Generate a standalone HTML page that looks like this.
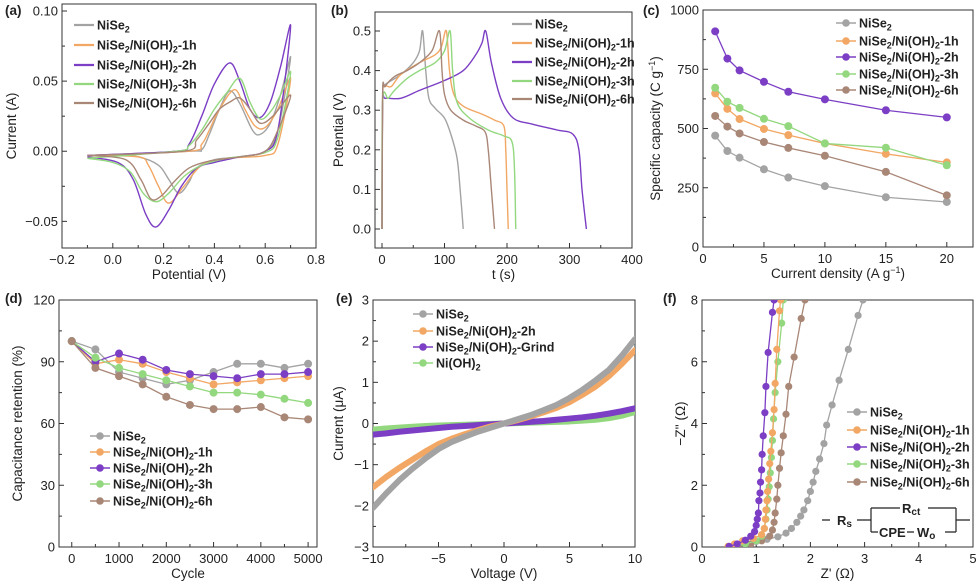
<!DOCTYPE html>
<html><head><meta charset="utf-8"><style>
html,body{margin:0;padding:0;background:#fff}
svg{display:block;font-family:"Liberation Sans",Arial,sans-serif}
</style></head><body>
<svg id="fig" width="980" height="587" viewBox="0 0 980 587" xmlns="http://www.w3.org/2000/svg"></svg>
<script>
// ---------- colors ----------
const C_GRAY="#a3a3a3",C_OR="#f2a764",C_PU="#7b3ec4",C_GR="#93d87f",C_BR="#a98777";
// ---------- (a) CV data ----------
const cvNiSe2=[[-0.1,-0.003],[0.3,0],[0.35,0.001],[0.38,0.012],[0.42,0.03],[0.46,0.043],[0.5,0.034],[0.55,0.015],[0.58,0.012],[0.62,0.02],[0.66,0.04],[0.7,0.067],[0.65,0.015],[0.6,0.0],[0.5,-0.004],[0.4,-0.006],[0.33,-0.012],[0.3,-0.022],[0.26,-0.03],[0.22,-0.02],[0.18,-0.01],[0.1,-0.004],[0,-0.003],[-0.1,-0.003]];
const cv1h=[[-0.1,-0.003],[0.3,0],[0.35,0.005],[0.38,0.015],[0.42,0.03],[0.48,0.044],[0.52,0.03],[0.56,0.018],[0.6,0.017],[0.65,0.03],[0.7,0.052],[0.65,0.005],[0.6,-0.003],[0.45,-0.005],[0.35,-0.01],[0.28,-0.025],[0.22,-0.037],[0.18,-0.025],[0.14,-0.01],[0.1,-0.004],[-0.1,-0.003]];
const cv2h=[[-0.1,-0.003],[0.25,0],[0.3,0.005],[0.35,0.025],[0.4,0.048],[0.46,0.063],[0.5,0.05],[0.54,0.03],[0.58,0.024],[0.62,0.035],[0.66,0.06],[0.7,0.089],[0.65,0.015],[0.6,0.0],[0.5,-0.004],[0.4,-0.008],[0.33,-0.012],[0.27,-0.025],[0.22,-0.042],[0.17,-0.054],[0.13,-0.045],[0.08,-0.02],[0.02,-0.008],[-0.1,-0.004]];
const cv3h=[[-0.1,-0.005],[0.25,0],[0.3,0.004],[0.35,0.015],[0.4,0.03],[0.45,0.042],[0.5,0.052],[0.54,0.035],[0.58,0.023],[0.62,0.028],[0.66,0.04],[0.7,0.056],[0.65,0.01],[0.6,-0.001],[0.45,-0.005],[0.35,-0.01],[0.28,-0.018],[0.22,-0.03],[0.17,-0.036],[0.12,-0.03],[0.07,-0.015],[0,-0.008],[-0.1,-0.005]];
const cv6h=[[-0.1,-0.003],[0.28,0],[0.33,0.008],[0.38,0.02],[0.42,0.03],[0.46,0.035],[0.5,0.038],[0.54,0.03],[0.58,0.02],[0.63,0.025],[0.7,0.04],[0.65,0.015],[0.6,0.0],[0.5,-0.004],[0.38,-0.007],[0.3,-0.012],[0.24,-0.022],[0.19,-0.032],[0.15,-0.034],[0.11,-0.02],[0.05,-0.006],[-0.1,-0.003]];
// ---------- (b) GCD data ----------
const gcdNiSe2=[[0,0],[1,0.33],[3,0.36],[10,0.37],[30,0.39],[50,0.42],[60,0.45],[65,0.5],[70,0.4],[75,0.33],[85,0.305],[100,0.28],[110,0.24],[120,0.18],[125,0.1],[130,0]];
const gcd1h=[[0,0],[1,0.33],[5,0.36],[15,0.36],[30,0.39],[60,0.42],[85,0.44],[95,0.46],[103,0.5],[108,0.4],[115,0.34],[130,0.31],[160,0.29],[180,0.275],[195,0.26],[198,0.2],[200,0.1],[202,0]];
const gcd2h=[[0,0],[1,0.32],[5,0.33],[30,0.33],[60,0.35],[100,0.375],[130,0.4],[150,0.44],[160,0.47],[166,0.5],[175,0.42],[190,0.33],[210,0.28],[240,0.265],[280,0.25],[305,0.24],[315,0.2],[320,0.1],[327,0]];
const gcd3h=[[0,0],[1,0.32],[10,0.33],[20,0.35],[40,0.38],[60,0.4],[85,0.42],[100,0.45],[109,0.5],[113,0.4],[120,0.32],[140,0.28],[170,0.25],[195,0.235],[208,0.22],[212,0.15],[214,0]];
const gcd6h=[[0,0],[1,0.34],[5,0.36],[20,0.385],[40,0.4],[60,0.42],[80,0.45],[92,0.5],[96,0.4],[100,0.34],[110,0.3],[130,0.275],[150,0.26],[165,0.245],[170,0.2],[175,0.1],[180,0]];
// ---------- (c) rate data ----------
const rateX=[1,2,3,5,7,10,15,20];
const rateNiSe2=[470,405,377,328,293,257,210,190];
const rate1h=[648,583,540,498,472,437,393,357];
const rate2h=[910,795,745,697,655,623,577,547];
const rate3h=[672,613,587,541,510,437,419,345];
const rate6h=[553,508,479,443,418,385,317,218];
// ---------- (d) cycling data ----------
const cycX=[0,500,1000,1500,2000,2500,3000,3500,4000,4500,5000];
const cycNiSe2=[100,96,85,82,79,81,85,89,89,87,89];
const cyc1h=[100,89,91,89,85,82,79,80,81,82,83];
const cyc2h=[100,90,94,91,86,84,83,82,84,84,85];
const cyc3h=[100,92,87,84,81,78,75,75,74,72,70];
const cyc6h=[100,87,83,79,73,69,67,67,68,63,62];
// ---------- (e) I-V data ----------
const ivX=[-10,-9,-8,-7,-6,-5,-4,-3,-2,-1,0,1,2,3,4,5,6,7,8,9,10];
const ivNiSe2=[-2.05,-1.7,-1.38,-1.1,-0.85,-0.62,-0.45,-0.32,-0.2,-0.1,0,0.1,0.2,0.32,0.45,0.62,0.82,1.05,1.3,1.65,2.05];
const iv2h=[-1.55,-1.3,-1.08,-0.88,-0.68,-0.5,-0.37,-0.26,-0.16,-0.07,0,0.08,0.17,0.27,0.38,0.52,0.7,0.9,1.15,1.45,1.78];
const ivGrind=[-0.27,-0.24,-0.2,-0.17,-0.14,-0.11,-0.08,-0.06,-0.04,-0.02,0,0.02,0.04,0.06,0.09,0.12,0.15,0.19,0.24,0.3,0.37];
const ivNiOH=[-0.15,-0.12,-0.1,-0.08,-0.06,-0.05,-0.04,-0.03,-0.02,-0.01,0,0.01,0.02,0.03,0.04,0.05,0.07,0.09,0.13,0.19,0.28];
// ---------- (f) EIS data ----------
const eisNiSe2=[[0.62,0.02],[0.8,0.1],[1.0,0.18],[1.2,0.25],[1.4,0.33],[1.55,0.45],[1.65,0.6],[1.75,0.8],[1.82,1.0],[1.88,1.2],[1.95,1.5],[2.0,1.8],[2.05,2.1],[2.1,2.45],[2.17,2.85],[2.25,3.35],[2.3,3.95],[2.4,4.6],[2.53,5.4],[2.7,6.4],[2.88,7.5],[2.97,8.0]];
const eis1h=[[0.48,0.02],[0.6,0.1],[0.75,0.2],[0.95,0.28],[1.1,0.4],[1.15,0.6],[1.17,0.9],[1.18,1.2],[1.2,1.5],[1.21,1.8],[1.23,2.2],[1.25,2.7],[1.27,3.1],[1.3,3.7],[1.33,4.45],[1.35,5.3],[1.38,6.4],[1.43,7.65],[1.45,8]];
const eis2h=[[0.5,0.02],[0.65,0.1],[0.8,0.22],[0.9,0.35],[0.97,0.5],[1.0,0.7],[1.02,0.9],[1.04,1.1],[1.05,1.5],[1.07,1.75],[1.08,2.1],[1.1,2.5],[1.11,3.0],[1.13,3.6],[1.16,4.35],[1.18,5.2],[1.22,6.3],[1.3,7.6],[1.33,8]];
const eis3h=[[0.62,0.02],[0.8,0.1],[1.0,0.2],[1.1,0.35],[1.15,0.6],[1.18,0.9],[1.2,1.2],[1.22,1.55],[1.24,1.95],[1.26,2.4],[1.28,2.9],[1.3,3.45],[1.32,4.15],[1.35,5.0],[1.4,6.0],[1.47,7.25],[1.5,8]];
const eis6h=[[0.65,0.02],[0.9,0.1],[1.1,0.2],[1.25,0.35],[1.3,0.55],[1.33,0.8],[1.35,1.1],[1.38,1.55],[1.4,2.0],[1.43,2.55],[1.46,3.05],[1.5,3.6],[1.55,4.3],[1.6,5.2],[1.7,6.15],[1.83,7.4],[1.9,8]];
// ---------- tick labels ----------
const aXt=[-0.2,0,0.2,0.4,0.6,0.8], aXl=["−0.2","0.0","0.2","0.4","0.6","0.8"];
const aYt=[-0.05,0,0.05,0.1], aYl=["−0.05","0.00","0.05","0.10"];
const bXt=[0,100,200,300,400], bXl=["0","100","200","300","400"];
const bYt=[0,0.1,0.2,0.3,0.4,0.5], bYl=["0.0","0.1","0.2","0.3","0.4","0.5"];
const cXt=[0,5,10,15,20], cXl=["0","5","10","15","20"];
const cYt=[0,250,500,750,1000], cYl=["0","250","500","750","1000"];
const dXt=[0,1000,2000,3000,4000,5000], dXl=["0","1000","2000","3000","4000","5000"];
const dYt=[0,30,60,90,120], dYl=["0","30","60","90","120"];
const eXt=[-10,-5,0,5,10], eXl=["−10","−5","0","5","10"];
const eYt=[-3,-2,-1,0,1,2,3], eYl=["−3","−2","−1","0","1","2","3"];
const fXt=[0,1,2,3,4,5], fXl=["0","1","2","3","4","5"];
const fYt=[0,2,4,6,8], fYl=["0","2","4","6","8"];

const NS="http://www.w3.org/2000/svg";
const fig=document.getElementById("fig");
function mk(tag,attrs,parent){const e=document.createElementNS(NS,tag);for(const k in attrs)e.setAttribute(k,attrs[k]);(parent||fig).appendChild(e);return e;}
function smooth(pts){
  let d="M"+pts[0][0].toFixed(2)+","+pts[0][1].toFixed(2);
  for(let i=0;i<pts.length-1;i++){const p0=pts[Math.max(0,i-1)],p1=pts[i],p2=pts[i+1],p3=pts[Math.min(pts.length-1,i+2)];
    const c1=[p1[0]+(p2[0]-p0[0])/6,p1[1]+(p2[1]-p0[1])/6],c2=[p2[0]-(p3[0]-p1[0])/6,p2[1]-(p3[1]-p1[1])/6];
    d+="C"+c1[0].toFixed(2)+","+c1[1].toFixed(2)+" "+c2[0].toFixed(2)+","+c2[1].toFixed(2)+" "+p2[0].toFixed(2)+","+p2[1].toFixed(2);}
  return d;}
function axes(id,L,R,T,B,x0,x1,y0,y1){
  const sx=v=>L+(v-x0)/(x1-x0)*(R-L), sy=v=>B-(v-y0)/(y1-y0)*(B-T);
  const g=mk("g",{});
  
  
  const cp=mk("clipPath",{id:"clip-"+id},g);mk("rect",{x:L,y:T,width:R-L,height:B-T},cp);
  return {g,sx,sy,L,R,T,B};}
function frame(A,xt,xl,xminor,yt,yl,yminor,xTitle,yTitle,yTitleX,panel,px,py){
  const g=A.g;
  const box=mk("rect",{x:A.L,y:A.T,width:A.R-A.L,height:A.B-A.T,fill:"none",stroke:"#333","stroke-width":1},g);
  
  
  const xa=mk("g",{},g);
  xt.forEach((v,i)=>{const x=A.sx(v);mk("line",{x1:x,x2:x,y1:A.B,y2:A.B-5,stroke:"#333"},xa);
    const t=mk("text",{x:x,y:A.B+16,"text-anchor":"middle","font-size":13,fill:"#222"},xa);t.textContent=xl[i];
    });
  xminor.forEach(v=>{const x=A.sx(v);mk("line",{x1:x,x2:x,y1:A.B,y2:A.B-3,stroke:"#333"},xa);});
  const ya=mk("g",{},g);
  yt.forEach((v,i)=>{const y=A.sy(v);mk("line",{x1:A.L,x2:A.L+5,y1:y,y2:y,stroke:"#333"},ya);
    const t=mk("text",{x:A.L-4,y:y+4.5,"text-anchor":"end","font-size":13,fill:"#222"},ya);t.textContent=yl[i];
    });
  yminor.forEach(v=>{const y=A.sy(v);mk("line",{x1:A.L,x2:A.L+3,y1:y,y2:y,stroke:"#333"},ya);});
  const xtT=mk("text",{x:(A.L+A.R)/2,y:A.B+31,"text-anchor":"middle","font-size":13.5,fill:"#222"},g);xtT.innerHTML=xTitle;
  
  const cy=(A.T+A.B)/2;
  const ytT=mk("text",{x:yTitleX,y:cy,"text-anchor":"middle","font-size":13.5,fill:"#222",transform:`rotate(-90 ${yTitleX} ${cy})`},g);ytT.innerHTML=yTitle;
  
  const pl=mk("text",{x:px,y:py,"font-size":13.5,"font-weight":"bold",fill:"#222"},g);pl.textContent=panel;
  }
function range(a,b,s){const r=[];for(let v=a;v<=b+1e-9;v+=s)r.push(+v.toFixed(6));return r;}
function lab(name){
  return name.replace(/(Se|\))2/g,'$1<tspan font-size="9" dy="3">2</tspan><tspan dy="-3">\u200b</tspan>');}
function legend(g,x,ys,names,colors,marker,lw){
  const lg=mk("g",{},g);
  names.forEach((n,i)=>{const y=ys[i];
    const e=mk("g",{},lg);
    mk("line",{x1:x,x2:x+20,y1:y,y2:y,stroke:colors[i],"stroke-width":lw||2},e);
    if(marker)mk("circle",{cx:x+10,cy:y,r:3.8,fill:colors[i]},e);
    const t=mk("text",{x:x+23,y:y+4.5,"font-size":12.5,"font-weight":"bold",fill:"#222"},e);t.innerHTML=lab(n);});}
const NAMES5=["NiSe2","NiSe2/Ni(OH)2-1h","NiSe2/Ni(OH)2-2h","NiSe2/Ni(OH)2-3h","NiSe2/Ni(OH)2-6h"];
const COL5=[C_GRAY,C_OR,C_PU,C_GR,C_BR];
function curve(A,pts,col,name,w){const p=mk("path",{d:smooth(pts.map(q=>[A.sx(q[0]),A.sy(q[1])])),fill:"none",stroke:col,"stroke-width":w||1.4,"clip-path":"url(#clip-"+A.id+")"},A.g);
  }
function dotline(A,xs,ys,col,name,r,lw){const s=mk("g",{"clip-path":"url(#clip-"+A.id+")"},A.g);
  
  mk("polyline",{points:xs.map((x,i)=>A.sx(x)+","+A.sy(ys[i])).join(" "),fill:"none",stroke:col,"stroke-width":lw||1.4},s);
  xs.forEach((x,i)=>{const c=mk("circle",{cx:A.sx(x),cy:A.sy(ys[i]),r:r||4,fill:col},s);
    });}

// (a)
let A=axes("a",62,316,4,248,-0.2,0.8,-0.069,0.105);A.id="a";
frame(A,aXt,aXl,range(-0.1,0.7,0.2),aYt,aYl,[-0.025,0.025,0.075],"Potential (V)","Current (A)",16,"(a)",5,15);
[cvNiSe2,cv1h,cv2h,cv3h,cv6h].forEach((d,i)=>curve(A,d,COL5[i],"cv-curve-"+i));
legend(A.g,74,[25,45,65,84,103],NAMES5,COL5,false,2.2);
// (b)
A=axes("b",375,632,12,248,-11.2,400,-0.048,0.548);A.id="b";
frame(A,bXt,bXl,[50,150,250,350],bYt,bYl,range(0.05,0.45,0.1),"t (s)","Potential (V)",343,"(b)",331,15);
[gcdNiSe2,gcd1h,gcd2h,gcd3h,gcd6h].forEach((d,i)=>curve(A,d,COL5[i],"gcd-curve-"+i));
legend(A.g,512,[24,43,62,81,99],NAMES5,COL5,false,2.2);
// (c)
A=axes("c",703,973,10,247,0,22.15,0,1000);A.id="c";
frame(A,cXt,cXl,[2.5,7.5,12.5,17.5],cYt,cYl,[125,375,625,875],"Current density (A g<tspan font-size='9' dy='-5'>−1</tspan><tspan dy='5'>)</tspan>","Specific capacity (C g<tspan font-size='9' dy='-5'>−1</tspan><tspan dy='5'>)</tspan>",660,"(c)",643,15);
[rateNiSe2,rate1h,rate2h,rate3h,rate6h].forEach((d,i)=>dotline(A,rateX,d,COL5[i],"rate-series-"+i,4,1.3));
legend(A.g,836,[23,41,57,74,90],NAMES5,COL5,true,1.5);
// (d)
A=axes("d",59,317,300,547,-270,5000+(317-308)*5000/239,0,120);A.id="d";
frame(A,dXt,dXl,range(500,4500,1000),dYt,dYl,[15,45,75,105],"Cycle","Capacitance retention (%)",22,"(d)",5,303);
[cycNiSe2,cyc1h,cyc2h,cyc3h,cyc6h].forEach((d,i)=>dotline(A,cycX,d,COL5[i],"cycle-series-"+i,4,1.3));
legend(A.g,90,[436,452,468,484,501],NAMES5,COL5,true,1.5);
// (e)
A=axes("e",373,635,300,547,-10,10,-3,3);A.id="e";
frame(A,eXt,eXl,[-7.5,-2.5,2.5,7.5],eYt,eYl,range(-2.5,2.5,1),"Voltage (V)","Current (μA)",343,"(e)",336,303);
const IVC=[C_GRAY,C_OR,C_PU,C_GR];
[ivNiOH,ivGrind,iv2h,ivNiSe2].forEach((d,i)=>{const col=[C_GR,C_PU,C_OR,C_GRAY][i];
  const s=mk("g",{"clip-path":"url(#clip-e)"},A.g);
  mk("polyline",{points:ivX.map((x,j)=>A.sx(x)+","+A.sy(d[j])).join(" "),fill:"none",stroke:col,"stroke-width":6,"stroke-linecap":"round","stroke-linejoin":"round"},s);});
legend(A.g,413,[314,331,347,363],["NiSe2","NiSe2/Ni(OH)2-2h","NiSe2/Ni(OH)2-Grind","Ni(OH)2"],IVC,true,1.5);
// (f)
A=axes("f",702,973,300,547,0,5,0,8);A.id="f";
frame(A,fXt,fXl,range(0.5,4.5,1),fYt,fYl,[1,3,5,7],"Z' (Ω)","−Z'' (Ω)",685,"(f)",663,303);
[eisNiSe2,eis6h,eis3h,eis1h,eis2h].forEach((d,i)=>{const col=[C_GRAY,C_BR,C_GR,C_OR,C_PU][i];
  dotline(A,d.map(p=>p[0]),d.map(p=>p[1]),col,"eis-series-"+i,3.6,1.3);});
legend(A.g,847,[412,430,447,464,482],NAMES5,COL5,true,1.5);
// circuit
const ck=mk("g",{stroke:"#222","stroke-width":1.2,fill:"none"},A.g);

mk("path",{d:"M822,520H830 M857,520H871 M871,508V532 M871,508H900 M928,508H956 M871,532H878 M907,532H914 M945,532H956 M956,508V532 M956,520H970"},ck);
[["R",837,"s",525],["R",902,"ct",513],["CPE",879,"",537],["W",917,"o",537]].forEach(t=>{
  const tx=mk("text",{x:t[1],y:t[3],"font-size":13,"font-weight":"bold",fill:"#222",stroke:"none"},ck);
  tx.innerHTML=t[0]+(t[2]?'<tspan font-size="10" dy="2">'+t[2]+'</tspan>':'');});
</script>
</body></html>
